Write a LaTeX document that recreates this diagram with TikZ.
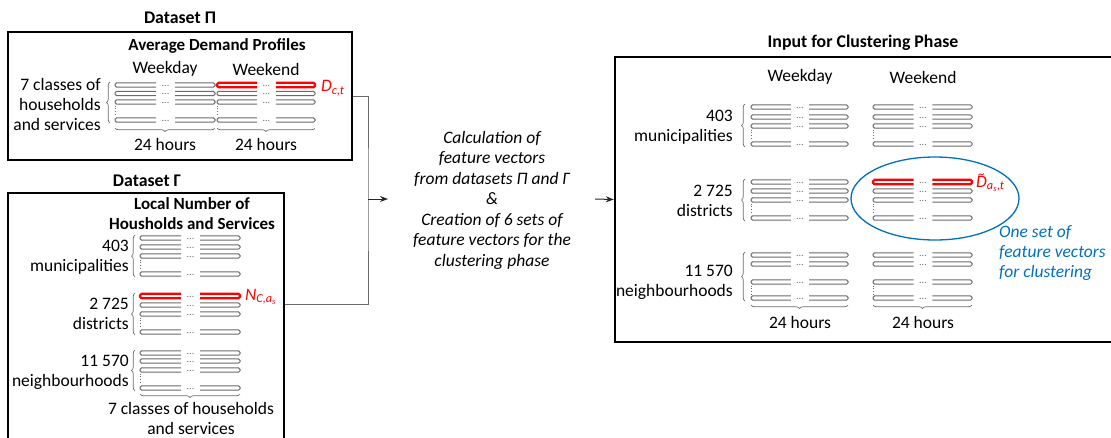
\documentclass[tikz,border=0pt]{standalone}
\usepackage{fontspec}
\setmainfont{Carlito}
\usetikzlibrary{decorations.pathreplacing,arrows.meta}
\definecolor{rowgray}{HTML}{6A6A6A}
\definecolor{hlred}{HTML}{FF0000}
\definecolor{hlblue}{HTML}{0070C0}
\tikzset{
  txt/.style={inner sep=0pt,font=\fontsize{17.5}{20}\selectfont},
  ttl/.style={inner sep=0pt,font=\fontsize{17.8}{20}\selectfont\bfseries},
  bigbox/.style={draw=black,line width=2.4pt,rectangle,inner sep=0pt},
  rowg/.style={draw=rowgray,line width=1pt,rounded corners=1.5pt},
  rowr/.style={draw=hlred,line width=2.2pt,rounded corners=1.5pt},
  gapdots/.style={inner sep=0pt,text=rowgray,font=\fontsize{10}{10}\selectfont},
  dotv/.style={draw=rowgray,line width=0.8pt,dotted},
  bracestyle/.style={draw=rowgray,line width=0.7pt,decorate,decoration={brace,amplitude=3.5pt}},
  conn/.style={draw=rowgray,line width=1pt},
  arr/.style={draw=black!85,line width=1pt,-{Stealth[length=8pt,width=6pt]}},
}
\newcommand{\myrow}[4][rowg]{%
  \pgfmathsetmacro{\ga}{#2+0.41*(#3-#2)}%
  \pgfmathsetmacro{\gb}{#2+0.60*(#3-#2)}%
  \pgfmathsetmacro{\gm}{#2+0.505*(#3-#2)}%
  \draw[#1] (\ga,#4-2.2) -- (#2,#4-2.2) -- (#2,#4+2.2) -- (\ga,#4+2.2);
  \draw[#1] (\gb,#4-2.2) -- (#3,#4-2.2) -- (#3,#4+2.2) -- (\gb,#4+2.2);
  \node[gapdots] at (\gm,#4+0.5) {...};
}
\newcommand{\myblock}[7]{%
  \myrow[#7]{#1}{#2}{#3}
  \myrow{#1}{#2}{#4}
  \myrow{#1}{#2}{#5}
  \myrow{#1}{#2}{#6}
  \draw[dotv] (#1,#5+3.5) -- (#1,#6-3.5);
}
\newcommand{\mylbr}[3]{\draw[bracestyle] (#1,#3) -- (#1,#2);}
\newcommand{\mybbr}[3]{\draw[bracestyle] (#2,#1) -- (#3,#1);}
\newcommand{\tD}{\ooalign{\textit{D}\cr\hidewidth\raisebox{0.48em}{\fontsize{13}{13}\selectfont\textit{\textasciitilde}}\hidewidth\cr}}
\begin{document}
\begin{tikzpicture}[x=1pt,y=-1pt]
\useasboundingbox (0,0) rectangle (1111,437);
\begin{scope}
\clip (0,0) rectangle (1111,437);

% ---------------- Dataset Pi ----------------
\node[ttl] (tpi) at (180,18) {Dataset Π};
\node[bigbox,minimum width=344pt,minimum height=128pt] (pi) at (180,96) {};
\node[ttl,font=\fontsize{17}{20}\selectfont\bfseries] (adp) at (217,46) {Average Demand Profiles};
\node[txt] (wd1) at (165,69) {Weekday};
\node[txt] (we1) at (266,69) {Weekend};
\node[txt,align=right,anchor=east] (cls1) at (101,104) {7 classes of\\households\\and services};
\myblock{115}{215}{85}{93.5}{102}{120}{rowg}
\myblock{217}{315}{85}{93.5}{102}{120}{rowr}
\mylbr{110}{82}{123}
\mybbr{128}{215}{115}
\mybbr{128}{315}{217}
\node[txt] (h1) at (165,144) {24 hours};
\node[txt] (h2) at (266,144) {24 hours};
\node[txt,anchor=west,text=hlred] (dct) at (321,88) {\textit{D}\textsubscript{\textit{c,t}}};

% ---------------- Dataset Gamma ----------------
\node[ttl] (tgam) at (147,181) {Dataset Γ};
\node[bigbox,minimum width=276pt,minimum height=257pt] (gam) at (146,321.5) {};
\node[ttl,font=\fontsize{17}{20}\selectfont\bfseries,align=center] (lnh) at (192,213.5) {Local Number of\\Housholds and Services};
\myblock{140}{240}{238}{247}{256}{274}{rowg}
\myblock{140}{240}{296}{305}{314}{332}{rowr}
\myblock{140}{240}{353}{361}{370}{388}{rowg}
\mylbr{135}{235}{277}
\mylbr{135}{293}{335}
\mylbr{135}{350}{391}
\mybbr{394}{240}{140}
\node[txt,align=right,anchor=east] (gm) at (129,257) {403\\municipalities};
\node[txt,align=right,anchor=east] (gd) at (129,314) {2 725\\districts};
\node[txt,align=right,anchor=east] (gn) at (129,372) {11 570\\neighbourhoods};
\node[txt,align=center] (gcls) at (191,418.5) {7 classes of households\\and services};
\node[txt,anchor=west,text=hlred] (nca) at (245,297) {\textit{N}\textsubscript{\textit{C,a}\textsubscript{\textit{s}}}};

% ---------------- connectors ----------------
\path (gam.east) ++(0,-17.5) coordinate (ga);
\coordinate (jx) at (368,199);
\coordinate (ja) at (388,199);
\draw[conn] (pi.east) -| (jx) |- (ga);
\draw[arr] (jx) -- (ja);

\node[txt,align=center,font=\fontsize{17.5}{20.5}\selectfont\itshape] (calc) at (492,200)
 {Calculation of\\feature vectors\\from datasets Π and Γ\\\&\\Creation of 6 sets of\\feature vectors for the\\clustering phase};

\coordinate (jb) at (595,199);

% ---------------- Input for clustering ----------------
\node[ttl] (tin) at (863,43) {Input for Clustering Phase};
\node[bigbox,minimum width=510pt,minimum height=285pt] (inp) at (870,199.5) {};
\draw[arr] (jb) -- (inp.west);
\node[txt] (wd2) at (800,77) {Weekday};
\node[txt] (we2) at (923,77) {Weekend};
\myblock{751}{848}{107}{117}{126}{144}{rowg}
\myblock{873}{972}{107}{117}{126}{144}{rowg}
\myblock{751}{848}{182}{191}{200}{218}{rowg}
\myblock{873}{972}{182}{191}{200}{218}{rowr}
\myblock{751}{848}{255}{264}{282}{298}{rowg}
\myblock{873}{972}{255}{264}{282}{298}{rowg}
\mylbr{745}{104}{147}
\mylbr{745}{179}{221}
\mylbr{745}{252}{301}
\mybbr{305}{848}{751}
\mybbr{305}{972}{873}
\node[txt] (h3) at (800,322) {24 hours};
\node[txt] (h4) at (923,322) {24 hours};
\node[txt,align=right,anchor=east] (im) at (733,127) {403\\municipalities};
\node[txt,align=right,anchor=east] (id) at (733,201) {2 725\\districts};
\node[txt,align=right,anchor=east] (in) at (733,282) {11 570\\neighbourhoods};
\node[txt,anchor=west,text=hlred] (dtl) at (976,184) {\tD\textsubscript{\textit{a}\textsubscript{\textit{s}}\textit{,t}}};
\draw[hlblue,line width=1.3pt] (935,198.5) ellipse [x radius=84, y radius=41.5];
\node[txt,align=left,anchor=west,text=hlblue,font=\fontsize{17.5}{20}\selectfont\itshape] (oset) at (999,253) {One set of\\feature vectors\\for clustering};
\end{scope}
\end{tikzpicture}
\end{document}
